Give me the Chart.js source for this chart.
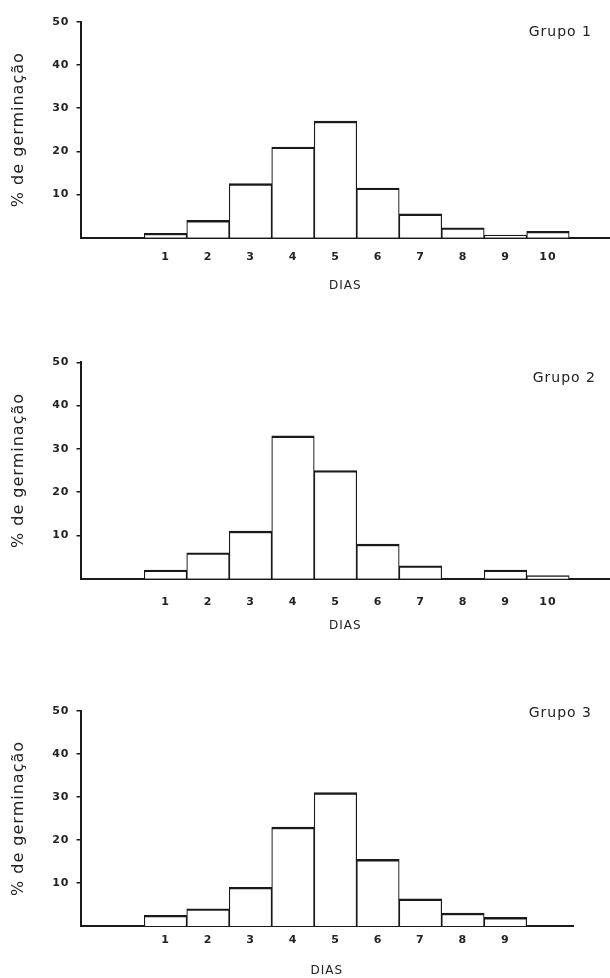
<!DOCTYPE html>
<html>
<head>
<meta charset="utf-8">
<script src="https://cdn.jsdelivr.net/npm/chart.js@4.4.1/dist/chart.umd.min.js"></script>
<style>
  html, body { margin: 0; padding: 0; background: #fff; }
  .box { position: absolute; left: 0; width: 610px; }
</style>
</head>
<body>
<div class="box" style="top:0;height:310px"><canvas id="c1"></canvas></div>
<div class="box" style="top:310px;height:330px"><canvas id="c2"></canvas></div>
<div class="box" style="top:640px;height:338px"><canvas id="c3"></canvas></div>
<script>
  // days on the x axis and % germination per day
  const dias1 = [1, 2, 3, 4, 5, 6, 7, 8, 9, 10];
  const grupo1 = [1, 4, 12.5, 21, 27, 11.5, 5.5, 2.3, 0.6, 1.5];

  const dias2 = [1, 2, 3, 4, 5, 6, 7, 8, 9, 10];
  const grupo2 = [2, 6, 11, 33, 25, 8, 3, 0, 2, 0.7];

  const dias3 = [1, 2, 3, 4, 5, 6, 7, 8, 9];
  const grupo3 = [2.5, 4, 9, 23, 31, 15.5, 6.3, 3, 2];

  const yTicks = [10, 20, 30, 40, 50];

  const ink = "#1a1a1a";
  const textColor = "#222";
  const family = "'DejaVu Sans', sans-serif";

  // the old typed figure has wide, loosely spaced lettering
  const spacing = {
    id: "spacing",
    beforeDraw(chart) {
      chart.ctx.letterSpacing = "1px";
    },
  };

  const grupoLabel = {
    id: "grupoLabel",
    afterDraw(chart, args, opts) {
      const ctx = chart.ctx;
      ctx.save();
      ctx.letterSpacing = "1px";
      ctx.font = "14px " + family;
      ctx.fillStyle = textColor;
      ctx.textAlign = "right";
      ctx.textBaseline = "middle";
      ctx.fillText(opts.text, opts.x, opts.y);
      ctx.restore();
    },
  };

  function histogram(id, dias, values, cfg) {
    new Chart(document.getElementById(id), {
      type: "bar",
      data: {
        datasets: [
          {
            data: dias.map((d, i) => ({ x: d, y: values[i] })),
            backgroundColor: "#ffffff",
            borderColor: ink,
            borderWidth: { top: 2.4, left: 1.2, right: 1.2, bottom: 0 },
            borderSkipped: false,
            barPercentage: 1,
            categoryPercentage: 1,
          },
        ],
      },
      plugins: [spacing, grupoLabel],
      options: {
        responsive: true,
        maintainAspectRatio: false,
        animation: false,
        layout: {
          padding: { top: cfg.padTop, right: cfg.padRight, bottom: cfg.padBottom, left: 0 },
        },
        plugins: {
          legend: { display: false },
          tooltip: { enabled: false },
          grupoLabel: { text: cfg.label, x: cfg.labelX, y: cfg.labelY },
        },
        scales: {
          x: {
            type: "linear",
            min: -1,
            max: cfg.xMax,
            offset: false,
            afterBuildTicks: (scale) => {
              scale.ticks = dias.map((v) => ({ value: v }));
            },
            afterFit: (scale) => {
              scale.height = cfg.xHeight;
            },
            grid: { display: false, drawTicks: false },
            border: { display: true, color: ink, width: 2 },
            ticks: {
              autoSkip: false,
              maxRotation: 0,
              padding: cfg.tickPad,
              color: textColor,
              font: { family: family, size: 11, weight: "bold" },
            },
            title: {
              display: true,
              text: "DIAS",
              color: textColor,
              padding: { top: 0, bottom: cfg.titlePad },
              font: { family: family, size: 12 },
            },
          },
          y: {
            min: 0,
            max: 50,
            afterBuildTicks: (scale) => {
              scale.ticks = yTicks.map((v) => ({ value: v }));
            },
            afterFit: (scale) => {
              scale.width = 80.5;
            },
            grid: {
              display: true,
              drawOnChartArea: false,
              drawTicks: true,
              tickLength: 4,
              color: ink,
              lineWidth: 1.5,
            },
            border: { display: true, color: ink, width: 2 },
            ticks: {
              padding: 7,
              color: textColor,
              font: { family: family, size: 11, weight: "bold" },
            },
            title: {
              display: true,
              text: "% de germinação",
              color: textColor,
              padding: { top: 9, bottom: 0 },
              font: { family: family, size: 16 },
            },
          },
        },
      },
    });
  }

  histogram("c1", dias1, grupo1, {
    label: "Grupo 1", labelX: 592, labelY: 32,
    padTop: 21.7, padBottom: 16.3, padRight: 0, xMax: 11.46,
    xHeight: 56, tickPad: 13, titlePad: 1,
  });
  histogram("c2", dias2, grupo2, {
    label: "Grupo 2", labelX: 596, labelY: 68,
    padTop: 52.3, padBottom: 5.3, padRight: 0, xMax: 11.46,
    xHeight: 56, tickPad: 17, titlePad: 1.5,
  });
  histogram("c3", dias3, grupo3, {
    label: "Grupo 3", labelX: 592, labelY: 73,
    padTop: 71, padBottom: 0, padRight: 37, xMax: 10.59,
    xHeight: 52, tickPad: 8, titlePad: 0,
  });
</script>
</body>
</html>
